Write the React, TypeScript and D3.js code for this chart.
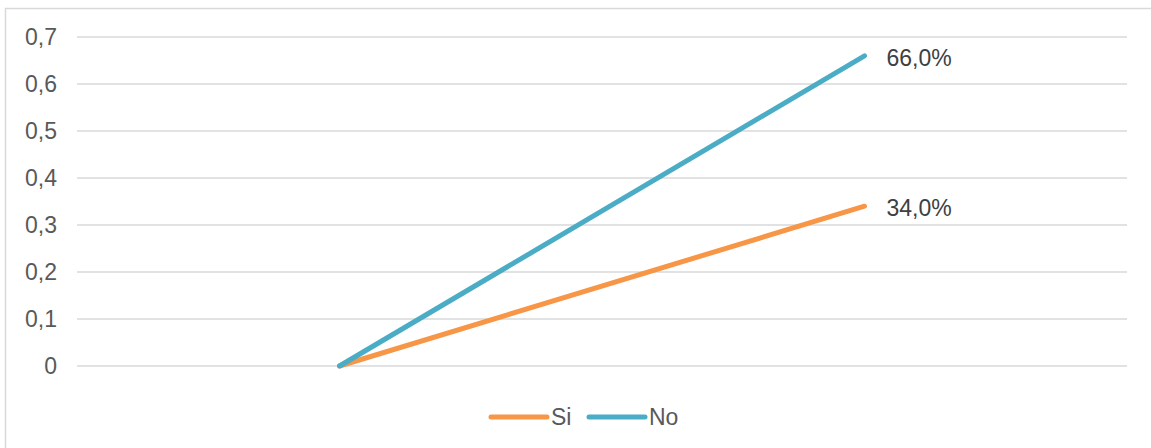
import React from "react";
import * as d3 from "d3";

const categories = ["A", "B"];
const seriesNames = ["Si", "No"];
const siValues = [0, 0.34];
const noValues = [0, 0.66];
const yTicks = [0, 0.1, 0.2, 0.3, 0.4, 0.5, 0.6, 0.7];
const colors = ["#F79646", "#4BACC6"];

const W = 1151, H = 448;
const margin = { left: 77, right: 24, top: 37, bottom: 82 };

export default function App() {
  const x = d3.scaleBand().domain(categories).range([margin.left, W - margin.right]);
  const y = d3.scaleLinear().domain([0, 0.7]).range([H - margin.bottom, margin.top]);
  const cx = (c: string) => (x(c) as number) + x.bandwidth() / 2;
  const line = d3.line<[string, number]>().x(d => cx(d[0])).y(d => y(d[1]));
  const series = [siValues, noValues];
  const fmtTick = (v: number) => (v === 0 ? "0" : d3.format(".1f")(v).replace(".", ","));
  const fmtLabel = (v: number) => d3.format(".1%")(v).replace(".", ",");
  const font = "Liberation Sans, Arial, sans-serif";
  return (
    <svg width={W} height={H} style={{ position: "absolute", left: 0, top: 0, background: "#fff" }} fontFamily={font}>
      <rect x={5.5} y={8.5} width={1200} height={500} fill="#fff" stroke="#D9D9D9" strokeWidth={1.5} />
      {yTicks.map(t => (
        <g key={t}>
          <line x1={margin.left} x2={W - margin.right} y1={y(t)} y2={y(t)} stroke="#D9D9D9" strokeWidth={1.5} />
          <text x={57} y={y(t)} textAnchor="end" dominantBaseline="central" fontSize={23} fill="#595959">{fmtTick(t)}</text>
        </g>
      ))}
      {series.map((vals, i) => (
        <path key={i} d={line(categories.map((c, j) => [c, vals[j]]) as [string, number][]) || ""} fill="none" stroke={colors[i]} strokeWidth={5} strokeLinecap="round" />
      ))}
      {series.map((vals, i) => (
        <text key={"l" + i} x={cx(categories[1]) + 22} y={y(vals[1]) + 2} dominantBaseline="central" fontSize={23} fill="#404040">{fmtLabel(vals[1])}</text>
      ))}
      {seriesNames.map((n, i) => {
        const lx = 491 + i * 98;
        return (
          <g key={n}>
            <line x1={lx} x2={lx + 56} y1={417} y2={417} stroke={colors[i]} strokeWidth={5} strokeLinecap="round" />
            <text x={lx + 60} y={417} dominantBaseline="central" fontSize={23} fill="#595959">{n}</text>
          </g>
        );
      })}
    </svg>
  );
}
